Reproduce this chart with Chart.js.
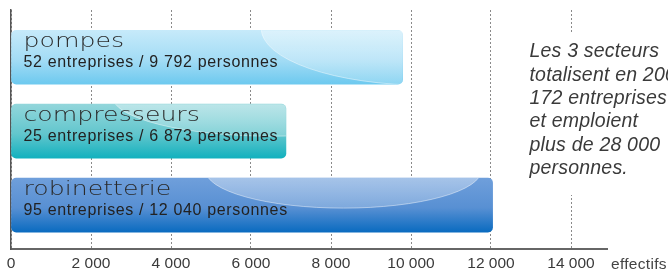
<!DOCTYPE html>
<html>
<head>
<meta charset="utf-8">
<script src="https://cdn.jsdelivr.net/npm/chart.js@4.4.1/dist/chart.umd.min.js"></script>
<style>
  html, body { margin:0; padding:0; background:#fff; }
  #wrap { width:668px; height:272px; position:relative; }
</style>
</head>
<body>
<div id="wrap"><canvas id="chart" width="668" height="272"></canvas></div>
<script>
// data
const categories = ['pompes', 'compresseurs', 'robinetterie'];
const effectifs = [9792, 6873, 12040];
const entreprises = [52, 25, 95];
const xTickValues = [0, 2000, 4000, 6000, 8000, 10000, 12000, 14000];
const axisUnit = 'effectifs';
const noteLines = ['Les 3 secteurs', 'totalisent en 2009', '172 entreprises', 'et emploient', 'plus de 28 000', 'personnes.'];

// bar looks
const barStops = [
  [[0, '#c6eafa'], [0.55, '#a3dcf5'], [1, '#6dc9ef']],
  [[0, '#92d6db'], [0.55, '#62c6cd'], [1, '#12b1be']],
  [[0, '#6f9fdb'], [0.55, '#5890d3'], [1, '#0a6bc0']]
];
// gloss ellipse: centre x / width of bar, centre y offset from bar top, radii
const gloss = [
  { cx: 1.06, cy: -2, rx: 165, ry: 57 },
  { cx: 0.95, cy: -8, rx: 160, ry: 40 },
  { cx: 0.69, cy: -8, rx: 138, ry: 38 }
];

function fmt(n){
  return String(n).replace(/\B(?=(\d{3})+(?!\d))/g, ' ');
}

function roundRect(ctx, x, y, w, h, r){
  ctx.beginPath();
  ctx.moveTo(x + r, y);
  ctx.lineTo(x + w - r, y);
  ctx.quadraticCurveTo(x + w, y, x + w, y + r);
  ctx.lineTo(x + w, y + h - r);
  ctx.quadraticCurveTo(x + w, y + h, x + w - r, y + h);
  ctx.lineTo(x + r, y + h);
  ctx.quadraticCurveTo(x, y + h, x, y + h - r);
  ctx.lineTo(x, y + r);
  ctx.quadraticCurveTo(x, y, x + r, y);
  ctx.closePath();
}

const barThickness = 54;

const labelsPlugin = {
  id: 'barLabels',
  afterDatasetsDraw(chart){
    const ctx = chart.ctx;
    const meta = chart.getDatasetMeta(0);
    meta.data.forEach((bar, i) => {
      const top = bar.y - bar.height / 2;
      const left = bar.base;
      const w = bar.x - bar.base;
      const g = gloss[i];

      // glossy highlight
      ctx.save();
      roundRect(ctx, left, top, w, bar.height, 5);
      ctx.clip();
      const ex = left + w * g.cx, ey = top + g.cy;
      ctx.beginPath();
      ctx.ellipse(ex, ey, g.rx, g.ry, 0, 0, Math.PI * 2);
      const hg = ctx.createLinearGradient(0, top, 0, top + g.ry + g.cy);
      hg.addColorStop(0, 'rgba(255,255,255,0.38)');
      hg.addColorStop(1, 'rgba(255,255,255,0.22)');
      ctx.fillStyle = hg;
      ctx.fill();
      ctx.strokeStyle = 'rgba(255,255,255,0.55)';
      ctx.lineWidth = 0.8;
      ctx.stroke();
      ctx.restore();

      // category name, wide rounded look
      ctx.save();
      ctx.fillStyle = '#2a2a2a';
      ctx.font = '200 20px "DejaVu Sans"';
      ctx.textBaseline = 'alphabetic';
      ctx.translate(left + 12, bar.y - 10);
      ctx.scale(1.26, 1);
      ctx.fillText(categories[i], 0, 0);
      ctx.restore();

      // sub line
      ctx.save();
      ctx.fillStyle = '#222';
      ctx.font = '16px "Liberation Sans"';
      ctx.letterSpacing = '0.65px';
      ctx.textBaseline = 'alphabetic';
      ctx.fillText(entreprises[i] + ' entreprises / ' + fmt(effectifs[i]) + ' personnes', left + 12, bar.y + 9.5);
      ctx.restore();
    });

    // side note
    ctx.save();
    ctx.fillStyle = '#fff';
    ctx.fillRect(522, 33, 146, 162);
    ctx.fillStyle = '#3a3a3a';
    ctx.font = 'italic 19.5px "Liberation Sans"';
    ctx.letterSpacing = '0.2px';
    ctx.textBaseline = 'alphabetic';
    noteLines.forEach((t, k) => ctx.fillText(t, 529.5, 57.3 + k * 23.35));
    ctx.restore();
  },
  afterDraw(chart){
    const ctx = chart.ctx;
    ctx.save();
    ctx.fillStyle = '#444';
    ctx.font = '15.5px "Liberation Sans"';
    ctx.textBaseline = 'middle';
    ctx.letterSpacing = '0.3px';
    ctx.fillText(axisUnit, 611, chart.chartArea.bottom + 15);
    ctx.restore();
  }
};

const ctx = document.getElementById('chart').getContext('2d');
new Chart(ctx, {
  type: 'bar',
  data: {
    labels: categories,
    datasets: [{
      data: effectifs.map((v, i) => ({ x: v, y: i })),
      barThickness: barThickness,
      borderRadius: 5,
      borderSkipped: false,
      backgroundColor: function(c){
        const chart = c.chart;
        if (!chart.chartArea) return barStops[c.dataIndex][1][1];
        const yc = chart.scales.y.getPixelForValue(c.dataIndex);
        const gr = chart.ctx.createLinearGradient(0, yc - barThickness / 2, 0, yc + barThickness / 2);
        barStops[c.dataIndex].forEach(s => gr.addColorStop(s[0], s[1]));
        return gr;
      }
    }]
  },
  options: {
    indexAxis: 'y',
    responsive: false,
    animation: false,
    layout: { padding: { left: 11, right: 61, top: 10, bottom: -6 } },
    plugins: { legend: { display: false }, tooltip: { enabled: false } },
    scales: {
      x: {
        type: 'linear',
        min: 0,
        max: 14900,
        afterBuildTicks: axis => { axis.ticks = xTickValues.map(v => ({ value: v })); },
        ticks: {
          includeBounds: false,
          padding: 5,
          color: '#3a3a3a',
          font: { family: 'Liberation Sans', size: 15.5 },
          callback: v => fmt(v),
          maxRotation: 0
        },
        grid: {
          drawTicks: false,
          color: '#8a8a8a',
          lineWidth: 1
        },
        border: { display: true, color: '#666', width: 2, dash: [2, 2] }
      },
      y: {
        type: 'linear',
        reverse: true,
        offset: false,
        min: -0.639,
        max: 2.599,
        ticks: { display: false },
        grid: { display: false, drawTicks: false },
        border: { display: true, color: '#555', width: 1.5 }
      }
    }
  },
  plugins: [labelsPlugin]
});
</script>
</body>
</html>
